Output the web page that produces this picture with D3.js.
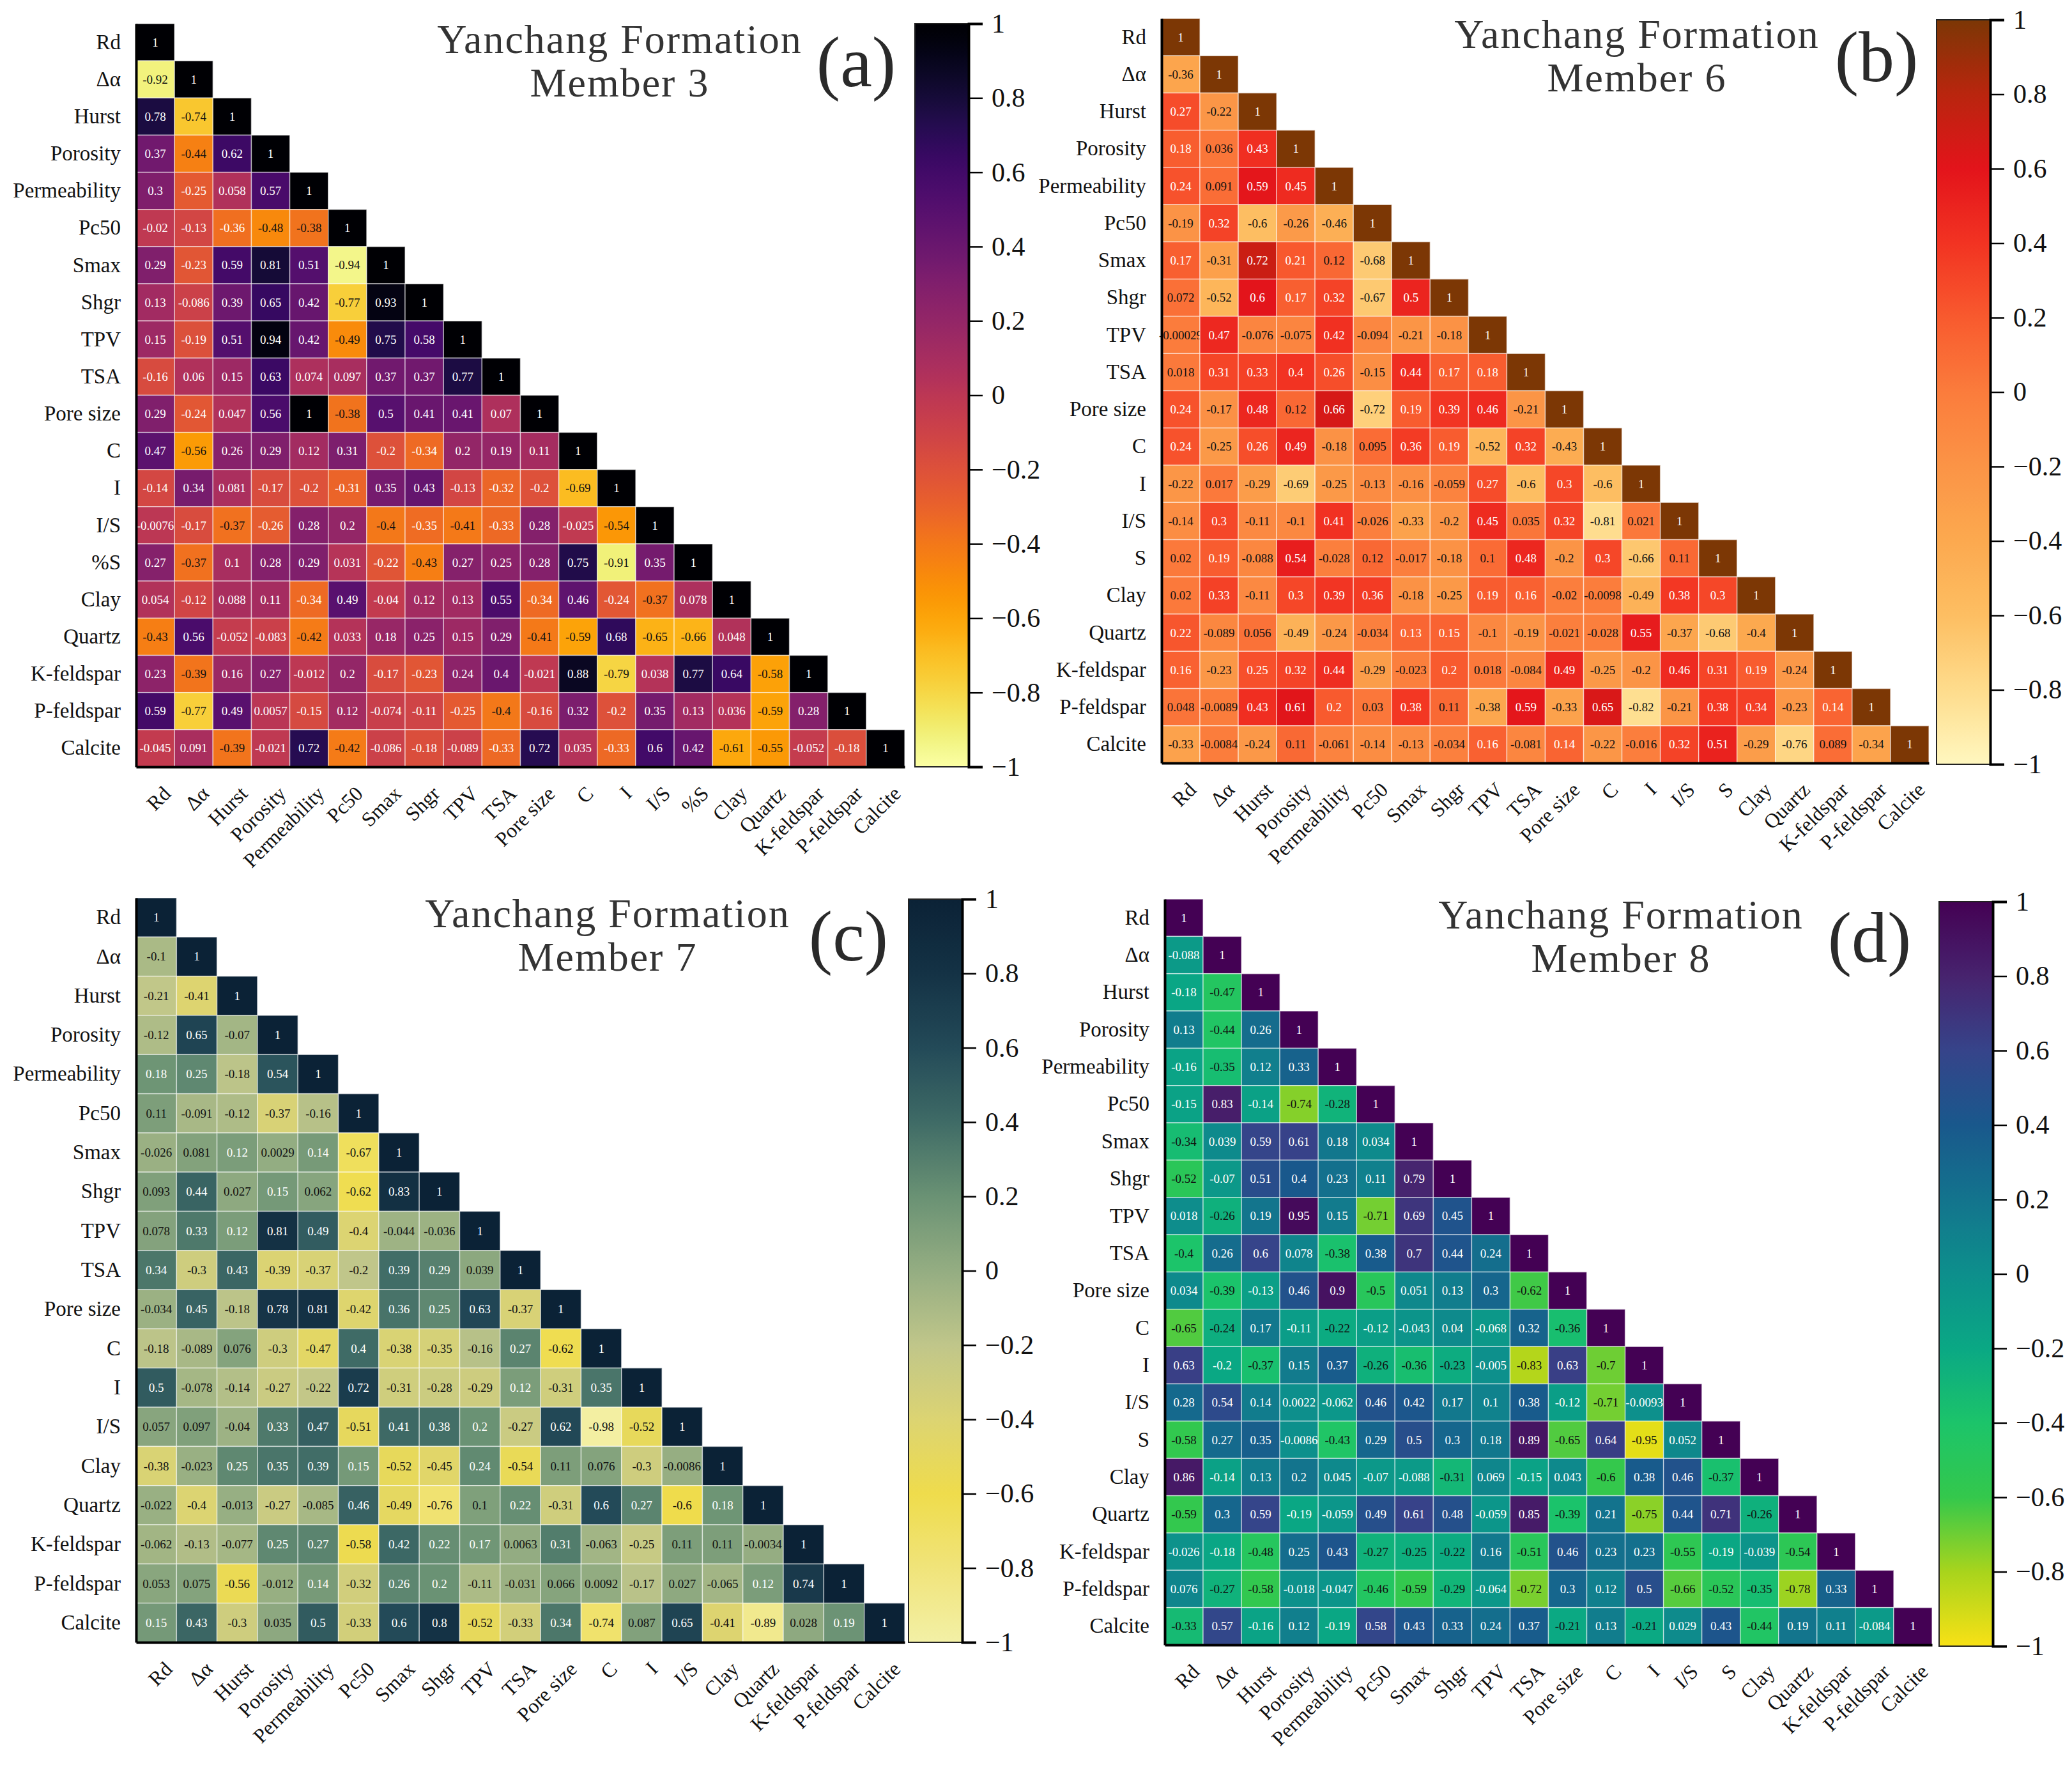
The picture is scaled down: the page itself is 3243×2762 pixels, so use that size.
<!DOCTYPE html>
<html>
<head>
<meta charset="utf-8">
<script src="https://cdn.jsdelivr.net/npm/d3@7"></script>
<style>
  body { margin: 0; background: #fff; }
  svg { display: block; font-family: "Liberation Serif", "Times New Roman", serif; }
</style>
</head>
<body>
<div id="chart"></div>
<script>
// Correlation matrices (lower triangle, row by row) for four members of the Yanchang Formation

const member3Vars = ["Rd", "Δα", "Hurst", "Porosity", "Permeability", "Pc50", "Smax", "Shgr", "TPV", "TSA",
  "Pore size", "C", "I", "I/S", "%S", "Clay", "Quartz", "K-feldspar", "P-feldspar", "Calcite"];
const member3Values = [
  [1],
  [-0.92, 1],
  [0.78, -0.74, 1],
  [0.37, -0.44, 0.62, 1],
  [0.3, -0.25, 0.058, 0.57, 1],
  [-0.02, -0.13, -0.36, -0.48, -0.38, 1],
  [0.29, -0.23, 0.59, 0.81, 0.51, -0.94, 1],
  [0.13, -0.086, 0.39, 0.65, 0.42, -0.77, 0.93, 1],
  [0.15, -0.19, 0.51, 0.94, 0.42, -0.49, 0.75, 0.58, 1],
  [-0.16, 0.06, 0.15, 0.63, 0.074, 0.097, 0.37, 0.37, 0.77, 1],
  [0.29, -0.24, 0.047, 0.56, 1, -0.38, 0.5, 0.41, 0.41, 0.07, 1],
  [0.47, -0.56, 0.26, 0.29, 0.12, 0.31, -0.2, -0.34, 0.2, 0.19, 0.11, 1],
  [-0.14, 0.34, 0.081, -0.17, -0.2, -0.31, 0.35, 0.43, -0.13, -0.32, -0.2, -0.69, 1],
  [-0.0076, -0.17, -0.37, -0.26, 0.28, 0.2, -0.4, -0.35, -0.41, -0.33, 0.28, -0.025, -0.54, 1],
  [0.27, -0.37, 0.1, 0.28, 0.29, 0.031, -0.22, -0.43, 0.27, 0.25, 0.28, 0.75, -0.91, 0.35, 1],
  [0.054, -0.12, 0.088, 0.11, -0.34, 0.49, -0.04, 0.12, 0.13, 0.55, -0.34, 0.46, -0.24, -0.37, 0.078, 1],
  [-0.43, 0.56, -0.052, -0.083, -0.42, 0.033, 0.18, 0.25, 0.15, 0.29, -0.41, -0.59, 0.68, -0.65, -0.66, 0.048, 1],
  [0.23, -0.39, 0.16, 0.27, -0.012, 0.2, -0.17, -0.23, 0.24, 0.4, -0.021, 0.88, -0.79, 0.038, 0.77, 0.64, -0.58, 1],
  [0.59, -0.77, 0.49, 0.0057, -0.15, 0.12, -0.074, -0.11, -0.25, -0.4, -0.16, 0.32, -0.2, 0.35, 0.13, 0.036, -0.59, 0.28, 1],
  [-0.045, 0.091, -0.39, -0.021, 0.72, -0.42, -0.086, -0.18, -0.089, -0.33, 0.72, 0.035, -0.33, 0.6, 0.42, -0.61, -0.55, -0.052, -0.18, 1]
];

const member6Vars = ["Rd", "Δα", "Hurst", "Porosity", "Permeability", "Pc50", "Smax", "Shgr", "TPV", "TSA",
  "Pore size", "C", "I", "I/S", "S", "Clay", "Quartz", "K-feldspar", "P-feldspar", "Calcite"];
const member6Values = [
  [1],
  [-0.36, 1],
  [0.27, -0.22, 1],
  [0.18, 0.036, 0.43, 1],
  [0.24, 0.091, 0.59, 0.45, 1],
  [-0.19, 0.32, -0.6, -0.26, -0.46, 1],
  [0.17, -0.31, 0.72, 0.21, 0.12, -0.68, 1],
  [0.072, -0.52, 0.6, 0.17, 0.32, -0.67, 0.5, 1],
  [-0.00029, 0.47, -0.076, -0.075, 0.42, -0.094, -0.21, -0.18, 1],
  [0.018, 0.31, 0.33, 0.4, 0.26, -0.15, 0.44, 0.17, 0.18, 1],
  [0.24, -0.17, 0.48, 0.12, 0.66, -0.72, 0.19, 0.39, 0.46, -0.21, 1],
  [0.24, -0.25, 0.26, 0.49, -0.18, 0.095, 0.36, 0.19, -0.52, 0.32, -0.43, 1],
  [-0.22, 0.017, -0.29, -0.69, -0.25, -0.13, -0.16, -0.059, 0.27, -0.6, 0.3, -0.6, 1],
  [-0.14, 0.3, -0.11, -0.1, 0.41, -0.026, -0.33, -0.2, 0.45, 0.035, 0.32, -0.81, 0.021, 1],
  [0.02, 0.19, -0.088, 0.54, -0.028, 0.12, -0.017, -0.18, 0.1, 0.48, -0.2, 0.3, -0.66, 0.11, 1],
  [0.02, 0.33, -0.11, 0.3, 0.39, 0.36, -0.18, -0.25, 0.19, 0.16, -0.02, -0.0098, -0.49, 0.38, 0.3, 1],
  [0.22, -0.089, 0.056, -0.49, -0.24, -0.034, 0.13, 0.15, -0.1, -0.19, -0.021, -0.028, 0.55, -0.37, -0.68, -0.4, 1],
  [0.16, -0.23, 0.25, 0.32, 0.44, -0.29, -0.023, 0.2, 0.018, -0.084, 0.49, -0.25, -0.2, 0.46, 0.31, 0.19, -0.24, 1],
  [0.048, -0.0089, 0.43, 0.61, 0.2, 0.03, 0.38, 0.11, -0.38, 0.59, -0.33, 0.65, -0.82, -0.21, 0.38, 0.34, -0.23, 0.14, 1],
  [-0.33, -0.0084, -0.24, 0.11, -0.061, -0.14, -0.13, -0.034, 0.16, -0.081, 0.14, -0.22, -0.016, 0.32, 0.51, -0.29, -0.76, 0.089, -0.34, 1]
];

const member7Vars = ["Rd", "Δα", "Hurst", "Porosity", "Permeability", "Pc50", "Smax", "Shgr", "TPV", "TSA",
  "Pore size", "C", "I", "I/S", "Clay", "Quartz", "K-feldspar", "P-feldspar", "Calcite"];
const member7Values = [
  [1],
  [-0.1, 1],
  [-0.21, -0.41, 1],
  [-0.12, 0.65, -0.07, 1],
  [0.18, 0.25, -0.18, 0.54, 1],
  [0.11, -0.091, -0.12, -0.37, -0.16, 1],
  [-0.026, 0.081, 0.12, 0.0029, 0.14, -0.67, 1],
  [0.093, 0.44, 0.027, 0.15, 0.062, -0.62, 0.83, 1],
  [0.078, 0.33, 0.12, 0.81, 0.49, -0.4, -0.044, -0.036, 1],
  [0.34, -0.3, 0.43, -0.39, -0.37, -0.2, 0.39, 0.29, 0.039, 1],
  [-0.034, 0.45, -0.18, 0.78, 0.81, -0.42, 0.36, 0.25, 0.63, -0.37, 1],
  [-0.18, -0.089, 0.076, -0.3, -0.47, 0.4, -0.38, -0.35, -0.16, 0.27, -0.62, 1],
  [0.5, -0.078, -0.14, -0.27, -0.22, 0.72, -0.31, -0.28, -0.29, 0.12, -0.31, 0.35, 1],
  [0.057, 0.097, -0.04, 0.33, 0.47, -0.51, 0.41, 0.38, 0.2, -0.27, 0.62, -0.98, -0.52, 1],
  [-0.38, -0.023, 0.25, 0.35, 0.39, 0.15, -0.52, -0.45, 0.24, -0.54, 0.11, 0.076, -0.3, -0.0086, 1],
  [-0.022, -0.4, -0.013, -0.27, -0.085, 0.46, -0.49, -0.76, 0.1, 0.22, -0.31, 0.6, 0.27, -0.6, 0.18, 1],
  [-0.062, -0.13, -0.077, 0.25, 0.27, -0.58, 0.42, 0.22, 0.17, 0.0063, 0.31, -0.063, -0.25, 0.11, 0.11, -0.0034, 1],
  [0.053, 0.075, -0.56, -0.012, 0.14, -0.32, 0.26, 0.2, -0.11, -0.031, 0.066, 0.0092, -0.17, 0.027, -0.065, 0.12, 0.74, 1],
  [0.15, 0.43, -0.3, 0.035, 0.5, -0.33, 0.6, 0.8, -0.52, -0.33, 0.34, -0.74, 0.087, 0.65, -0.41, -0.89, 0.028, 0.19, 1]
];

const member8Vars = ["Rd", "Δα", "Hurst", "Porosity", "Permeability", "Pc50", "Smax", "Shgr", "TPV", "TSA",
  "Pore size", "C", "I", "I/S", "S", "Clay", "Quartz", "K-feldspar", "P-feldspar", "Calcite"];
const member8Values = [
  [1],
  [-0.088, 1],
  [-0.18, -0.47, 1],
  [0.13, -0.44, 0.26, 1],
  [-0.16, -0.35, 0.12, 0.33, 1],
  [-0.15, 0.83, -0.14, -0.74, -0.28, 1],
  [-0.34, 0.039, 0.59, 0.61, 0.18, 0.034, 1],
  [-0.52, -0.07, 0.51, 0.4, 0.23, 0.11, 0.79, 1],
  [0.018, -0.26, 0.19, 0.95, 0.15, -0.71, 0.69, 0.45, 1],
  [-0.4, 0.26, 0.6, 0.078, -0.38, 0.38, 0.7, 0.44, 0.24, 1],
  [0.034, -0.39, -0.13, 0.46, 0.9, -0.5, 0.051, 0.13, 0.3, -0.62, 1],
  [-0.65, -0.24, 0.17, -0.11, -0.22, -0.12, -0.043, 0.04, -0.068, 0.32, -0.36, 1],
  [0.63, -0.2, -0.37, 0.15, 0.37, -0.26, -0.36, -0.23, -0.005, -0.83, 0.63, -0.7, 1],
  [0.28, 0.54, 0.14, 0.0022, -0.062, 0.46, 0.42, 0.17, 0.1, 0.38, -0.12, -0.71, -0.0093, 1],
  [-0.58, 0.27, 0.35, -0.0086, -0.43, 0.29, 0.5, 0.3, 0.18, 0.89, -0.65, 0.64, -0.95, 0.052, 1],
  [0.86, -0.14, 0.13, 0.2, 0.045, -0.07, -0.088, -0.31, 0.069, -0.15, 0.043, -0.6, 0.38, 0.46, -0.37, 1],
  [-0.59, 0.3, 0.59, -0.19, -0.059, 0.49, 0.61, 0.48, -0.059, 0.85, -0.39, 0.21, -0.75, 0.44, 0.71, -0.26, 1],
  [-0.026, -0.18, -0.48, 0.25, 0.43, -0.27, -0.25, -0.22, 0.16, -0.51, 0.46, 0.23, 0.23, -0.55, -0.19, -0.039, -0.54, 1],
  [0.076, -0.27, -0.58, -0.018, -0.047, -0.46, -0.59, -0.29, -0.064, -0.72, 0.3, 0.12, 0.5, -0.66, -0.52, -0.35, -0.78, 0.33, 1],
  [-0.33, 0.57, -0.16, 0.12, -0.19, 0.58, 0.43, 0.33, 0.24, 0.37, -0.21, 0.13, -0.21, 0.029, 0.43, -0.44, 0.19, 0.11, -0.084, 1]
];

const colorbarTicks = [-1, -0.8, -0.6, -0.4, -0.2, 0, 0.2, 0.4, 0.6, 0.8, 1];

// colour stops from -1 to 1
const stopDomain = [-1, -0.8, -0.6, -0.4, -0.2, 0, 0.2, 0.4, 0.6, 0.8, 1];
const heatStops = ["#fff7bf", "#fedc8c", "#fdbe62", "#fca94f", "#fb9446", "#fb7c3c",
  "#f85a2e", "#f23322", "#e3141b", "#b9250e", "#7c3705"];
const slateStops = ["#f3f0a6", "#f0e47a", "#efdc4c", "#dcd472", "#c0c68a", "#94ad82",
  "#6a9274", "#3f6b66", "#234a58", "#143245", "#0b2236"];
const greenStops = ["#f8e116", "#a8d41c", "#34c84c", "#1cc46a", "#0aa884", "#0d8f8c",
  "#13748d", "#19588c", "#36448a", "#47236e", "#440154"];

const W = 3243, H = 2762;

const panels = [
  { tag: "(a)", member: "Member 3", vars: member3Vars, values: member3Values,
    color: d3.scaleSequential(d3.interpolateInferno).domain([1, -1]),
    x: 213, y: 37, w: 1203, h: 1163, cbX: 1432, cbY: 37, cbH: 1163, titleX: 970, tagX: 1340 },
  { tag: "(b)", member: "Member 6", vars: member6Vars, values: member6Values,
    color: d3.scaleLinear().domain(stopDomain).range(heatStops),
    x: 1818, y: 29, w: 1201, h: 1165, cbX: 3031, cbY: 31, cbH: 1165, titleX: 2562, tagX: 2937 },
  { tag: "(c)", member: "Member 7", vars: member7Vars, values: member7Values,
    color: d3.scaleLinear().domain(stopDomain).range(slateStops),
    x: 213, y: 1405, w: 1203, h: 1165, cbX: 1422, cbY: 1407, cbH: 1163, titleX: 951, tagX: 1328 },
  { tag: "(d)", member: "Member 8", vars: member8Vars, values: member8Values,
    color: d3.scaleLinear().domain(stopDomain).range(greenStops),
    x: 1823, y: 1407, w: 1201, h: 1167, cbX: 3035, cbY: 1411, cbH: 1165, titleX: 2537, tagX: 2926 }
];

const svg = d3.select("#chart").append("svg")
  .attr("width", W).attr("height", H)
  .attr("viewBox", `0 0 ${W} ${H}`);
svg.append("rect").attr("width", W).attr("height", H).attr("fill", "#fff");
const defs = svg.append("defs");

function luminance(c) {
  const rgb = d3.rgb(c);
  const lin = v => { v /= 255; return v <= 0.03928 ? v / 12.92 : Math.pow((v + 0.055) / 1.055, 2.4); };
  return 0.2126 * lin(rgb.r) + 0.7152 * lin(rgb.g) + 0.0722 * lin(rgb.b);
}

panels.forEach((p, k) => {
  const g = svg.append("g");
  const x = d3.scaleBand().domain(p.vars).range([p.x, p.x + p.w]);
  const y = d3.scaleBand().domain(p.vars).range([p.y, p.y + p.h]);

  const cells = [];
  p.values.forEach((row, i) => row.forEach((v, j) => cells.push({ r: p.vars[i], c: p.vars[j], v })));

  const cell = g.append("g").selectAll("g").data(cells).join("g");
  cell.append("rect")
    .attr("x", d => x(d.c)).attr("y", d => y(d.r))
    .attr("width", x.bandwidth()).attr("height", y.bandwidth())
    .attr("fill", d => p.color(d.v))
    .attr("stroke", "rgba(255,255,255,0.55)")
    .attr("stroke-width", 1.5);
  cell.append("text")
    .attr("x", d => x(d.c) + x.bandwidth() / 2)
    .attr("y", d => y(d.r) + y.bandwidth() / 2)
    .attr("text-anchor", "middle")
    .attr("dominant-baseline", "central")
    .attr("font-size", 19)
    .attr("fill", d => luminance(p.color(d.v)) > 0.3 ? "#111" : "#fff")
    .text(d => String(d.v));

  // axes
  const left = g.append("g")
    .attr("transform", `translate(${p.x},0)`)
    .call(d3.axisLeft(y).tickSize(0).tickPadding(24));
  left.select(".domain").attr("stroke", "#000").attr("stroke-width", 4);
  left.selectAll("text").attr("font-size", 33).attr("fill", "#111")
    .attr("font-family", "'Liberation Serif', 'Times New Roman', serif");

  const bottom = g.append("g")
    .attr("transform", `translate(0,${p.y + p.h})`)
    .call(d3.axisBottom(x).tickSize(0).tickPadding(0));
  bottom.select(".domain").attr("stroke", "#000").attr("stroke-width", 4);
  bottom.selectAll("text")
    .attr("font-size", 32).attr("fill", "#111")
    .attr("font-family", "'Liberation Serif', 'Times New Roman', serif")
    .attr("text-anchor", "end")
    .attr("dy", "0.35em")
    .attr("transform", `translate(${x.bandwidth() * 0.3},36) rotate(-45)`);

  // colorbar
  const gradId = `grad${k}`;
  const grad = defs.append("linearGradient").attr("id", gradId)
    .attr("x1", 0).attr("y1", 1).attr("x2", 0).attr("y2", 0);
  d3.range(0, 1.0001, 0.02).forEach(t => {
    grad.append("stop").attr("offset", t).attr("stop-color", p.color(-1 + 2 * t));
  });
  const cbW = 84;
  g.append("rect")
    .attr("x", p.cbX).attr("y", p.cbY).attr("width", cbW).attr("height", p.cbH)
    .attr("fill", `url(#${gradId})`)
    .attr("stroke", "#222").attr("stroke-width", 2);
  const cbScale = d3.scaleLinear().domain([-1, 1]).range([p.cbY + p.cbH, p.cbY]);
  const cbAxis = g.append("g")
    .attr("transform", `translate(${p.cbX + cbW},0)`)
    .call(d3.axisRight(cbScale).tickValues(colorbarTicks).tickSize(22).tickPadding(14).tickFormat(d3.format("")));
  cbAxis.select(".domain").attr("stroke", "#000").attr("stroke-width", 4);
  cbAxis.selectAll(".tick line").attr("stroke", "#000").attr("stroke-width", 2.5);
  cbAxis.selectAll("text").attr("font-size", 42).attr("fill", "#111")
    .attr("font-family", "'Liberation Serif', 'Times New Roman', serif");

  // title
  const title = g.append("text")
    .attr("x", p.titleX).attr("y", p.y + 46)
    .attr("text-anchor", "middle")
    .attr("font-size", 64).attr("letter-spacing", 2)
    .attr("fill", "#333");
  title.append("tspan").attr("x", p.titleX).text("Yanchang Formation");
  title.append("tspan").attr("x", p.titleX).attr("dy", 68).text(p.member);

  g.append("text")
    .attr("x", p.tagX).attr("y", p.y + 98)
    .attr("text-anchor", "middle")
    .attr("font-size", 112)
    .attr("fill", "#2a2a2a")
    .text(p.tag);
});
</script>
</body>
</html>
